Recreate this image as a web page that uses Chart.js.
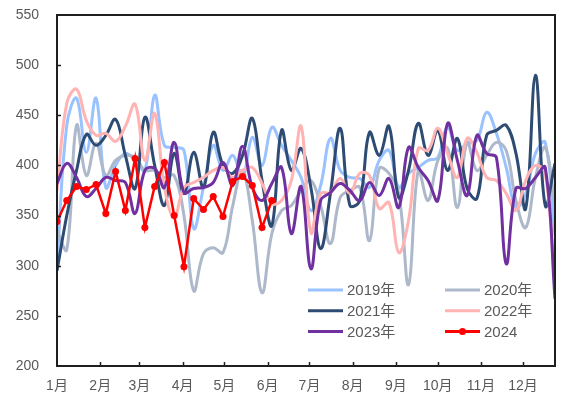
<!DOCTYPE html>
<html><head><meta charset="utf-8">
<script src="https://cdn.jsdelivr.net/npm/chart.js@4/dist/chart.umd.min.js"></script>
<style>html,body{margin:0;padding:0;background:#fff}#wrap{width:561px;height:399px;position:relative}</style>
</head><body><div id="wrap"><canvas id="c" width="561" height="399"></canvas></div>
<script>
const weekDays=[0,7,14,21,28,35,42,49,56,63,70,77,84,91,98,105,112,119,126,133,140,147,154,161,168,175,182,189,196,203,210,217,224,231,238,245,252,259,266,273,280,287,294,301,308,315,322,329,336,343,350,357];
const monthStarts=[0,31,59,90,120,151,181,212,243,273,304,334];
const monthLabels=['1月','2月','3月','4月','5月','6月','7月','8月','9月','10月','11月','12月'];
const yTicks=[200,250,300,350,400,450,500,550];
const seriesNames=['2019年','2020年','2021年','2022年','2023年','2024'];

const s2019=[300,440,467,413,467,378,400,412,405,395,470,420,418,415,337,378,420,395,410,388,428,400,438,420,405,388,355,380,427,395,388,387,378,405,415,378,392,398,405,408,438,415,422,425,453,432,398,358,372,412,423,330];
const s2020=[335,316,440,390,422,390,405,410,408,395,395,388,390,350,275,312,318,313,360,395,345,273,332,355,360,375,385,360,322,368,375,378,325,397,392,372,281,395,365,405,417,358,423,395,410,423,415,365,338,388,418,360];
const s2021=[295,350,395,431,420,430,446,410,377,448,400,360,412,372,413,378,433,400,392,410,447,385,340,435,395,417,378,317,372,437,360,365,433,410,439,368,395,442,410,435,395,427,377,367,430,435,440,412,357,490,360,402];
const s2022=[375,462,476,445,430,432,424,439,461,405,452,378,348,378,383,388,395,398,388,395,398,382,362,365,385,439,333,372,373,387,372,392,390,357,363,313,345,417,415,437,412,388,427,413,388,385,372,355,385,400,392,280];
const s2023=[382,402,388,369,377,388,385,383,352,395,397,378,423,373,377,378,383,403,380,419,378,365,382,398,332,379,297,365,373,382,375,365,383,370,387,358,418,398,385,365,442,405,370,430,412,408,302,377,377,388,398,267];
const s2024=[344,365,379,376,381,352,394,355,407,338,379,403,350,299,367,356,369,349,384,389,380,338,365];

const colors=['#99C2FF','#ADB9CA','#2E4B73','#FFB3B3','#7030A0','#FF0000'];
const FONT="'Liberation Sans','Noto Sans CJK SC',sans-serif";
const allSeries=[s2019,s2020,s2021,s2022,s2023,s2024];

const datasets=allSeries.map((d,k)=>{
  const last=k===5;
  return {
    label:seriesNames[k], data:d, borderColor:colors[k], backgroundColor:colors[k],
    borderWidth:last?2.5:3, pointRadius:last?3.5:0, pointBorderWidth:0,
    pointBackgroundColor:colors[k], tension:last?0:0.4, fill:false, order:5-k
  };
});

const decor={
  id:'decor',
  afterDraw(chart){
    const ctx=chart.ctx, a=chart.chartArea, xs=chart.scales.x, ys=chart.scales.y;
    ctx.save();
    ctx.strokeStyle='#1f1f1f'; ctx.lineWidth=1.5;
    yTicks.slice(1,-1).forEach(v=>{const p=Math.round(ys.getPixelForValue(v))+0.5;ctx.beginPath();ctx.moveTo(a.left,p);ctx.lineTo(a.left+4,p);ctx.stroke();});
    monthStarts.slice(1).forEach(v=>{const p=Math.round(xs.getPixelForValue(v))+0.5;ctx.beginPath();ctx.moveTo(p,a.bottom);ctx.lineTo(p,a.bottom-4);ctx.stroke();});
    ctx.lineWidth=2;
    ctx.strokeRect(a.left,a.top,a.right-a.left,a.bottom-a.top);
    const rows=[290,310.7,331.5], cols=[{x1:308,x2:343,tx:347},{x1:445,x2:480,tx:484}];
    ctx.font='15px '+FONT; ctx.textBaseline='middle'; ctx.textAlign='left';
    seriesNames.forEach((n,k)=>{
      const c=cols[k%2], y=rows[Math.floor(k/2)];
      ctx.strokeStyle=colors[k]; ctx.lineWidth=3;
      ctx.beginPath();ctx.moveTo(c.x1,y);ctx.lineTo(c.x2,y);ctx.stroke();
      if(k===5){ctx.fillStyle=colors[k];ctx.beginPath();ctx.arc((c.x1+c.x2)/2,y,3.5,0,Math.PI*2);ctx.fill();}
      ctx.fillStyle='#595959'; ctx.fillText(n,c.tx,y+1);
    });
    ctx.restore();
  }
};

new Chart(document.getElementById('c'),{
  type:'line',
  data:{labels:weekDays,datasets},
  options:{
    responsive:false, devicePixelRatio:1, animation:false,
    layout:{padding:{top:15,right:6,left:0,bottom:0}},
    plugins:{legend:{display:false},tooltip:{enabled:false}},
    scales:{
      x:{type:'linear',min:0,max:357,
        afterBuildTicks:s=>{s.ticks=monthStarts.map(v=>({value:v}));},
        afterFit:s=>{s.height=33;s.paddingLeft=0;s.paddingRight=0;},
        grid:{display:false,drawTicks:false},border:{display:false},
        ticks:{autoSkip:false,maxRotation:0,padding:12,color:'#595959',font:{size:14,family:FONT},callback:(v,i)=>monthLabels[i]}},
      y:{min:200,max:550,
        afterBuildTicks:s=>{s.ticks=yTicks.map(v=>({value:v}));},
        afterFit:s=>{s.width=57;s.paddingTop=0;s.paddingBottom=0;},
        grid:{display:false,drawTicks:false},border:{display:false},
        ticks:{padding:18,color:'#595959',font:{size:14,family:FONT}}}
    }
  },
  plugins:[decor]
});
</script></body></html>
